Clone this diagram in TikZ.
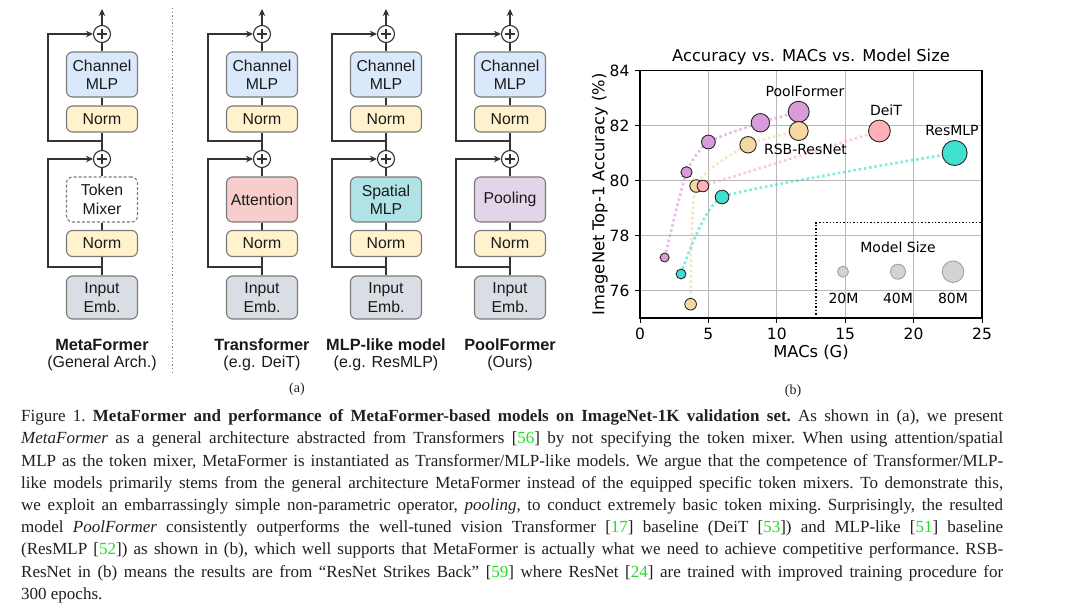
\documentclass[tikz,border=0pt]{standalone}
\usepackage{fontspec}
\newfontfamily\lsans{Liberation Sans}
\newfontfamily\lserif{Liberation Serif}
\newfontfamily\dvs{DejaVu Sans}
\usetikzlibrary{arrows.meta}
\definecolor{cmlp}{HTML}{DAE8FC}
\definecolor{cnorm}{HTML}{FFF2CC}
\definecolor{catt}{HTML}{F8CECC}
\definecolor{cspat}{HTML}{B0E3E6}
\definecolor{cpool}{HTML}{E1D5E7}
\definecolor{cemb}{HTML}{D9DEE4}
\definecolor{bgray}{HTML}{7A7A7A}
\definecolor{linec}{HTML}{333333}
\definecolor{txt}{HTML}{1A1A1A}
\definecolor{gridc}{HTML}{B8B8B8}
\definecolor{cpf}{HTML}{DA9BDB}
\definecolor{crsb}{HTML}{F5D8A2}
\definecolor{cdeit}{HTML}{FFB0BA}
\definecolor{cmlpm}{HTML}{40E0D0}
\definecolor{clgd}{HTML}{D3D3D3}
\definecolor{clgde}{HTML}{A0A0A0}
\definecolor{citec}{HTML}{22DD22}
\definecolor{captxt}{HTML}{202020}
\tikzset{
  blkbox/.style={draw=bgray, line width=1.1pt, rounded corners=6pt, minimum width=71pt,
    inner sep=0pt, align=center, text=txt, font=\lsans\fontsize{15.8}{18.3}\selectfont},
  plusc/.style={circle, draw=linec, line width=1.1pt, minimum size=17pt, inner sep=0pt, fill=white,
    path picture={
      \draw[linec, line width=1.1pt] ([xshift=-5pt]path picture bounding box.center) -- ([xshift=5pt]path picture bounding box.center);
      \draw[linec, line width=1.1pt] ([yshift=-5pt]path picture bounding box.center) -- ([yshift=5pt]path picture bounding box.center);}},
  connln/.style={draw=linec, line width=1.1pt},
  arrln/.style={connln, -{Stealth[length=7pt,width=6.5pt]}},
  ttlfont/.style={font=\lsans\bfseries\fontsize{16.3}{19}\selectfont, text=txt},
  subfont/.style={font=\lsans\fontsize{16}{19}\selectfont, text=txt},
  dotln/.style={line width=2.6pt, dash pattern=on 2.6pt off 2.7pt, opacity=0.65},
  mkedge/.style={draw=black!85, line width=0.9pt},
  capline/.style={anchor=base west, inner sep=0pt, text=captxt, font=\lserif\fontsize{17}{20}\selectfont\frenchspacing},
  tklab/.style={font=\dvs\fontsize{15.5}{18}\selectfont},
  annlab/.style={font=\dvs\fontsize{14}{16}\selectfont},
}
\newcommand\archcol[6]{%
  \node[blkbox, fill=cmlp, minimum height=45pt] (#2cm) at (#1,74.5) {Channel\\MLP};
  \node[blkbox, fill=cnorm, minimum height=26pt] (#2na) at (#1,119) {Norm};
  \node[blkbox, #3, minimum height=45pt] (#2mx) at (#1,199.5) {#4};
  \node[blkbox, fill=cnorm, minimum height=26pt] (#2nb) at (#1,243.5) {Norm};
  \node[blkbox, fill=cemb, minimum height=43pt] (#2emb) at (#1,297.5) {Input\\Emb.};
  \node[plusc] (#2pa) at (#1,34) {};
  \node[plusc] (#2pb) at (#1,159) {};
  \coordinate (#2top) at (#1,9);
  \coordinate (#2ba) at (#1,141);
  \coordinate (#2bb) at (#1,267);
  \draw[connln] (#2emb.north) -- (#2nb.south);
  \draw[connln] (#2nb.north) -- (#2mx.south);
  \draw[connln] (#2mx.north) -- (#2pb.south);
  \draw[connln] (#2pb.north) -- (#2na.south);
  \draw[connln] (#2na.north) -- (#2cm.south);
  \draw[connln] (#2cm.north) -- (#2pa.south);
  \draw[arrln] (#2pa.north) -- (#2top);
  \draw[arrln] (#2bb) -- ++(-54,0) |- (#2pb.west);
  \draw[arrln] (#2ba) -- ++(-54,0) |- (#2pa.west);
  \node[ttlfont] (#2t) at (#1,345) {#5};
  \node[subfont] (#2s) at (#1,363) {#6};
}
\begin{document}
\begin{tikzpicture}[x=1pt,y=-1pt]
\useasboundingbox[fill=white] (0,0) rectangle (1080,608);

% ---------- (a) architectures ----------
\archcol{102}{mf}{fill=white, dash pattern=on 3pt off 2pt}{Token\\Mixer}{MetaFormer}{(General Arch.)}
\archcol{262}{tf}{fill=catt}{Attention}{Transformer}{(e.g. DeiT)}
\archcol{386}{ml}{fill=cspat}{Spatial\\MLP}{MLP-like model}{(e.g. ResMLP)}
\archcol{510}{pf}{fill=cpool}{Pooling}{PoolFormer}{(Ours)}

\coordinate (sepa) at (172,8);
\coordinate (sepb) at (172,372);
\draw[gray, line width=1pt, dash pattern=on 1.4pt off 2.2pt] (sepa) -- (sepb);

\node[font=\lserif\fontsize{14}{16}\selectfont, text=captxt] (la) at (297,389) {(a)};
\node[font=\lserif\fontsize{14}{16}\selectfont, text=captxt] (lb) at (793,391) {(b)};

% ---------- (b) chart ----------
\begin{scope}[shift={(640pt,-318pt)}, x=13.68pt, y=27.5pt]
  \foreach \m in {5,10,15,20} \draw[gridc, line width=1pt] (\m,0) -- (\m,9);
  \foreach \a in {1,3,5,7} \draw[gridc, line width=1pt] (0,\a) -- (25,\a);
  % series lines
  \draw[cpf, dotln] plot[smooth, tension=0.35] coordinates {(1.8,2.2) (3.4,5.3) (5.0,6.4) (8.8,7.1) (11.6,7.5)};
  \draw[crsb, dotln] plot[smooth, tension=0.35] coordinates {(3.7,0.5) (4.1,4.8) (7.9,6.3) (11.6,6.8)};
  \draw[cdeit, dotln] (4.6,4.8) -- (17.5,6.8);
  \draw[cmlpm, dotln] plot[smooth, tension=0.25] coordinates {(3.0,1.6) (6.0,4.4) (23.0,6.0)};
  % markers
  \fill[cpf] (1.8,2.2) circle[radius=4.5pt]; \draw[mkedge] (1.8,2.2) circle[radius=4.5pt];
  \fill[cpf] (3.4,5.3) circle[radius=5.6pt]; \draw[mkedge] (3.4,5.3) circle[radius=5.6pt];
  \fill[cpf] (5.0,6.4) circle[radius=6.9pt]; \draw[mkedge] (5.0,6.4) circle[radius=6.9pt];
  \fill[cpf] (8.8,7.1) circle[radius=9.2pt]; \draw[mkedge] (8.8,7.1) circle[radius=9.2pt];
  \fill[cpf] (11.6,7.5) circle[radius=10.5pt]; \draw[mkedge] (11.6,7.5) circle[radius=10.5pt];
  \fill[crsb] (3.7,0.5) circle[radius=5.8pt]; \draw[mkedge] (3.7,0.5) circle[radius=5.8pt];
  \fill[crsb] (4.1,4.8) circle[radius=6.3pt]; \draw[mkedge] (4.1,4.8) circle[radius=6.3pt];
  \fill[crsb] (7.9,6.3) circle[radius=8.2pt]; \draw[mkedge] (7.9,6.3) circle[radius=8.2pt];
  \fill[crsb] (11.6,6.8) circle[radius=9.5pt]; \draw[mkedge] (11.6,6.8) circle[radius=9.5pt];
  \fill[cdeit] (4.6,4.8) circle[radius=5.8pt]; \draw[mkedge] (4.6,4.8) circle[radius=5.8pt];
  \fill[cdeit] (17.5,6.8) circle[radius=10.9pt]; \draw[mkedge] (17.5,6.8) circle[radius=10.9pt];
  \fill[cmlpm] (3.0,1.6) circle[radius=4.9pt]; \draw[mkedge] (3.0,1.6) circle[radius=4.9pt];
  \fill[cmlpm] (6.0,4.4) circle[radius=6.8pt]; \draw[mkedge] (6.0,4.4) circle[radius=6.8pt];
  \fill[cmlpm] (23.0,6.0) circle[radius=12.5pt]; \draw[mkedge] (23.0,6.0) circle[radius=12.5pt];
  % frame and ticks
  \draw[black, line width=1.1pt] (0,0) rectangle (25,9);
  \foreach \m in {0,5,10,15,20,25} {
    \draw[black, line width=1pt] (\m,0) -- ++(0pt,-5pt);
    \node[tklab] at ([yshift=-16pt]\m,0) {\m};
  }
  \foreach \a/\l in {1/76,3/78,5/80,7/82,9/84} {
    \draw[black, line width=1pt] (0,\a) -- ++(-5pt,0pt);
    \node[tklab, anchor=east] at ([xshift=-7pt]0,\a) {\l};
  }
  \node[font=\dvs\fontsize{16.3}{19}\selectfont] (xl) at ([yshift=-34.5pt]12.5,0) {MACs (G)};
  \node[font=\dvs\fontsize{16.3}{19}\selectfont, rotate=90] (yl) at ([xshift=-40pt]0,4.5) {ImageNet Top-1 Accuracy (\%)};
  \node[font=\dvs\fontsize{16.3}{19}\selectfont] (ctitle) at ([yshift=13.5pt]12.5,9) {Accuracy vs. MACs vs. Model Size};
\end{scope}

% annotations
\node[annlab] (apf) at (805,90.8) {PoolFormer};
\node[annlab] (arsb) at (805.5,149) {RSB-ResNet};
\node[annlab] (adeit) at (886,110) {DeiT};
\node[annlab] (amlp) at (952,130.5) {ResMLP};

% legend
\coordinate (lga) at (816,318);
\coordinate (lgb) at (982,222.7);
\draw[black, line width=1.4pt, dash pattern=on 1.4pt off 2pt] (lga) |- (lgb);
\node[annlab] (lgt) at (898,247.7) {Model Size};
\node[circle, fill=clgd, draw=clgde, line width=0.9pt, minimum size=11pt, inner sep=0pt] (lg1) at (843,271.7) {};
\node[circle, fill=clgd, draw=clgde, line width=0.9pt, minimum size=15pt, inner sep=0pt] (lg2) at (898,271.7) {};
\node[circle, fill=clgd, draw=clgde, line width=0.9pt, minimum size=21.5pt, inner sep=0pt] (lg3) at (953,271.7) {};
\node[annlab] (l1) at (843.5,298.5) {20M};
\node[annlab] (l2) at (898,298.5) {40M};
\node[annlab] (l3) at (953,298.5) {80M};

% ---------- caption ----------
\node[capline] (c1) at (21,421.7) {\hbox to 982pt{Figure 1. \textbf{MetaFormer and performance of MetaFormer-based models on ImageNet-1K validation set.} As shown in (a), we present}};
\node[capline] (c2) at (21,443.9) {\hbox to 982pt{\textit{MetaFormer} as a general architecture abstracted from Transformers [\textcolor{citec}{56}] by not specifying the token mixer. When using attention/spatial}};
\node[capline] (c3) at (21,466.1) {\hbox to 982pt{MLP as the token mixer, MetaFormer is instantiated as Transformer/MLP-like models. We argue that the competence of Transformer/MLP-}};
\node[capline] (c4) at (21,488.3) {\hbox to 982pt{like models primarily stems from the general architecture MetaFormer instead of the equipped specific token mixers. To demonstrate this,}};
\node[capline] (c5) at (21,510.5) {\hbox to 982pt{we exploit an embarrassingly simple non-parametric operator, \textit{pooling}, to conduct extremely basic token mixing. Surprisingly, the resulted}};
\node[capline] (c6) at (21,532.7) {\hbox to 982pt{model \textit{PoolFormer} consistently outperforms the well-tuned vision Transformer [\textcolor{citec}{17}] baseline (DeiT [\textcolor{citec}{53}]) and MLP-like [\textcolor{citec}{51}] baseline}};
\node[capline] (c7) at (21,554.9) {\hbox to 982pt{(ResMLP [\textcolor{citec}{52}]) as shown in (b), which well supports that MetaFormer is actually what we need to achieve competitive performance. RSB-}};
\node[capline] (c8) at (21,577.1) {\hbox to 982pt{ResNet in (b) means the results are from “ResNet Strikes Back” [\textcolor{citec}{59}] where ResNet [\textcolor{citec}{24}] are trained with improved training procedure for}};
\node[capline] (c9) at (21,599.3) {300 epochs.};
\end{tikzpicture}
\end{document}
